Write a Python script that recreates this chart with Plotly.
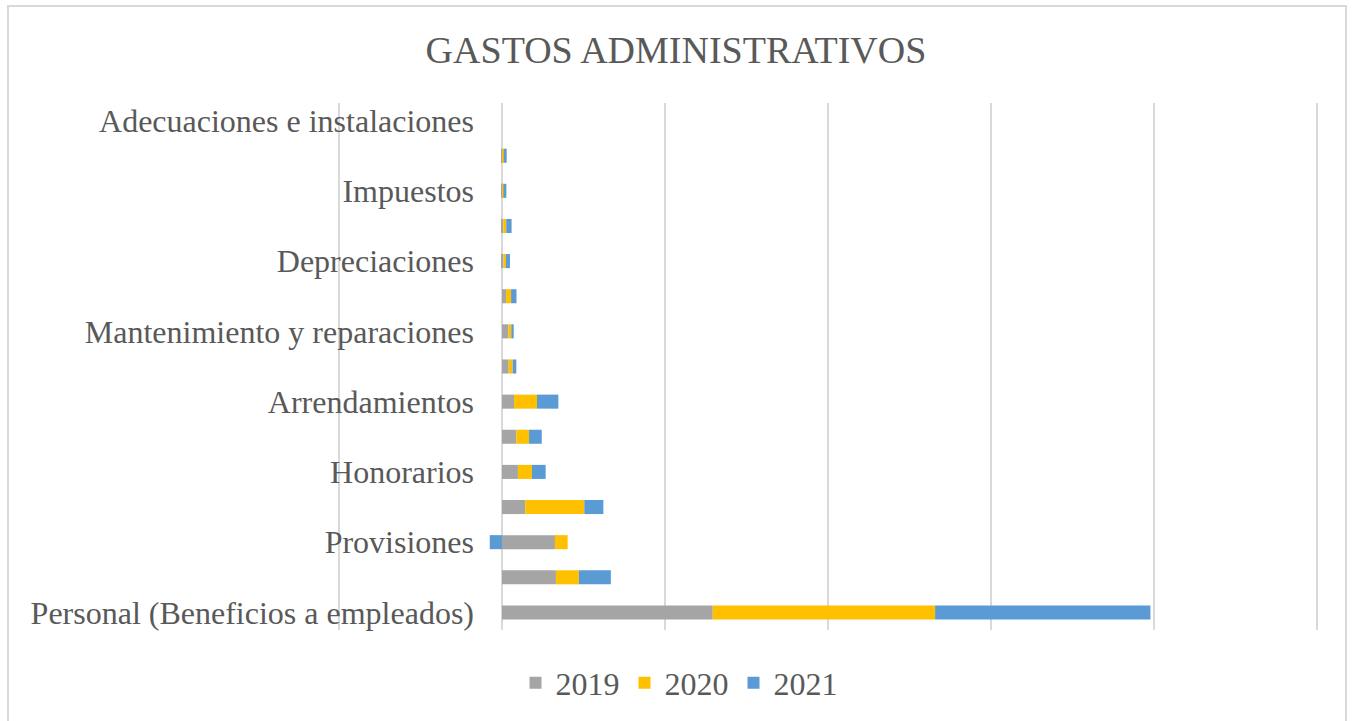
import plotly.graph_objects as go

categories = [
    "Adecuaciones e instalaciones",
    "Diversos",
    "Impuestos",
    "Seguros",
    "Depreciaciones",
    "Servicios",
    "Mantenimiento y reparaciones",
    "Gastos de viaje",
    "Arrendamientos",
    "Contribuciones y afiliaciones",
    "Honorarios",
    "Amortizaciones",
    "Provisiones",
    "Gastos legales",
    "Personal (Beneficios a empleados)",
]
shown_labels = categories[0::2]

v2019 = [0, 3, 3, 8, 9, 25, 39, 41, 74, 88, 98, 143, 325, 331, 1293]
v2020 = [0, 8, 6, 18, 15, 31, 18, 25, 141, 78, 86, 362, 78, 141, 1364]
v2021 = [0, 18, 18, 33, 25, 33, 15, 22, 131, 78, 84, 117, -75, 196, 1321]

years = ["2019", "2020", "2021"]
colors = ["#A5A5A5", "#FFC000", "#5B9BD5"]
series = [v2019, v2020, v2021]

fig = go.Figure()
for name, vals, col in zip(years, series, colors):
    fig.add_trace(go.Bar(
        y=categories, x=vals, name=name, orientation="h",
        marker=dict(color=col, line=dict(width=0)),
    ))

W, H = 1352, 721
L, R, T, B = 337, 33, 103, 91
pw, ph = W - L - R, H - T - B

def px_to_paper_x(px):
    return (px - L) / pw

def px_to_paper_y(py):
    return (H - B - py) / ph

fig.update_layout(
    width=W, height=H,
    barmode="relative",
    bargap=0.6,
    margin=dict(l=L, r=R, t=T, b=B, autoexpand=False),
    paper_bgcolor="white",
    plot_bgcolor="white",
    font=dict(family="Liberation Serif, Times New Roman, serif", color="#595959", size=32),
    title=dict(text="GASTOS ADMINISTRATIVOS", x=0.5, xref="container", xanchor="center",
               y=1 - 50 / H, yref="container", yanchor="middle",
               font=dict(size=38, color="#595959")),
    xaxis=dict(range=[-1012, 5012], dtick=1000, tick0=0, showticklabels=False,
               showgrid=True, gridcolor="#D9D9D9", gridwidth=2, zeroline=False,
               showline=False, ticks=""),
    yaxis=dict(categoryorder="array", categoryarray=categories[::-1],
               tickmode="array", tickvals=shown_labels, ticktext=shown_labels,
               anchor="free", position=px_to_paper_x(474), showgrid=False,
               showline=False, zeroline=False, ticks="",
               tickfont=dict(size=32, color="#595959")),
    legend=dict(orientation="h", x=px_to_paper_x(679), xanchor="center",
                y=px_to_paper_y(683), yanchor="middle",
                font=dict(size=32, color="#595959"), traceorder="normal",
                itemwidth=30),
    showlegend=True,
    shapes=[dict(type="rect", xref="paper", yref="paper",
                 x0=px_to_paper_x(8), x1=px_to_paper_x(1346),
                 y0=px_to_paper_y(730), y1=px_to_paper_y(6),
                 line=dict(color="#D9D9D9", width=2), fillcolor="rgba(0,0,0,0)",
                 layer="below")],
)

fig.write_html("out.html", config={"displayModeBar": False},
               post_script="document.body.style.margin='0';")
